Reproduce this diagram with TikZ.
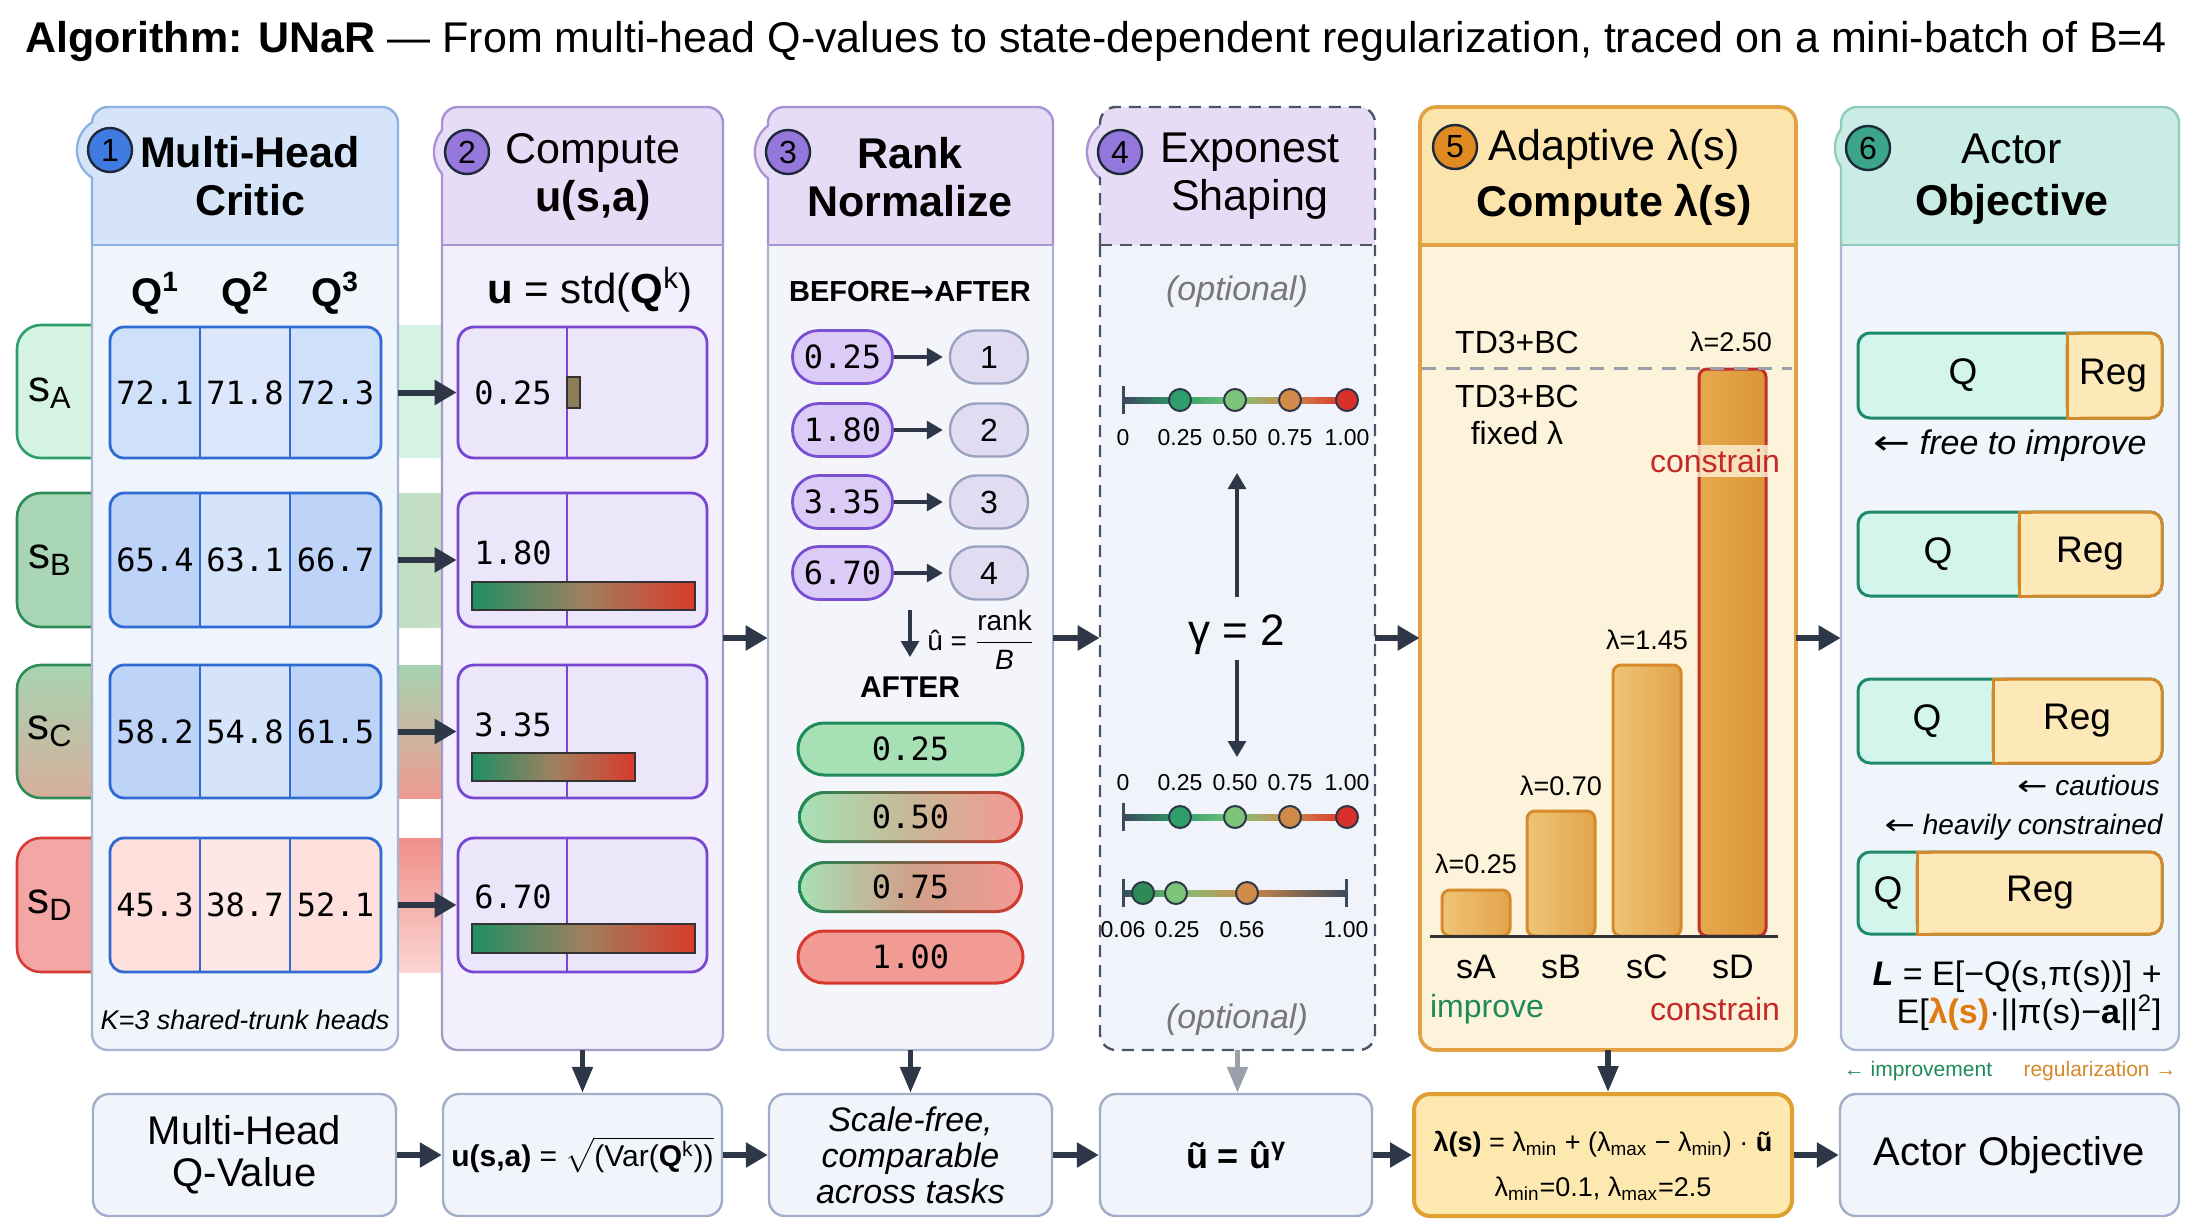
\documentclass[tikz,border=0pt]{standalone}
\usepackage{fontspec}
\usepackage{amsmath}
\usepackage{graphicx}
\setmainfont{Liberation Sans}
\setmonofont{DejaVu Sans Mono}
\newfontfamily\dvs{DejaVu Sans}
\newcommand\larr{{\dvs\upshape\scalebox{1.3}[1]{←}}}
\newcommand\rarr{{\dvs\upshape\scalebox{1.3}[1]{→}}}
\usetikzlibrary{arrows.meta,fit,calc}

\definecolor{arrc}{HTML}{2D3748}
\definecolor{badgeb}{HTML}{1E293B}
\definecolor{p1hf}{HTML}{D6E4F9}\definecolor{p1hb}{HTML}{8FB0E3}\definecolor{p1bf}{HTML}{F0F4FB}\definecolor{p1bb}{HTML}{A7B6D2}\definecolor{p1bd}{HTML}{3F7BE0}\definecolor{p1cb}{HTML}{8FB0E3}
\definecolor{p2hf}{HTML}{E6DCF6}\definecolor{p2hb}{HTML}{A793D4}\definecolor{p2bf}{HTML}{F3EFFC}\definecolor{p2bb}{HTML}{A59BC8}\definecolor{p2bd}{HTML}{9678DC}\definecolor{p2cb}{HTML}{A793D4}
\definecolor{p3hf}{HTML}{E6DCF6}\definecolor{p3hb}{HTML}{A793D4}\definecolor{p3bf}{HTML}{F3F5FA}\definecolor{p3bb}{HTML}{A7B6D2}\definecolor{p3bd}{HTML}{9678DC}\definecolor{p3cb}{HTML}{A793D4}
\definecolor{p4hf}{HTML}{E6DCF6}\definecolor{p4hb}{HTML}{4A5568}\definecolor{p4bf}{HTML}{F1F3FA}\definecolor{p4bb}{HTML}{4A5568}\definecolor{p4bd}{HTML}{9678DC}\definecolor{p4cb}{HTML}{A793D4}
\definecolor{p5hf}{HTML}{FCE5AD}\definecolor{p5hb}{HTML}{E2A244}\definecolor{p5bf}{HTML}{FDF3DA}\definecolor{p5bb}{HTML}{E2A244}\definecolor{p5bd}{HTML}{E08A22}\definecolor{p5cb}{HTML}{E2A244}
\definecolor{p6hf}{HTML}{C9ECE4}\definecolor{p6hb}{HTML}{90CBBD}\definecolor{p6bf}{HTML}{F0F4FB}\definecolor{p6bb}{HTML}{A7B6D2}\definecolor{p6bd}{HTML}{3AA58A}\definecolor{p6cb}{HTML}{90CBBD}
\definecolor{stAf}{HTML}{D5F3E3}\definecolor{stAb}{HTML}{2E9E6A}
\definecolor{stBf}{HTML}{A8D5B3}\definecolor{stBb}{HTML}{2E8B57}\definecolor{stBr}{HTML}{C5DFC5}
\definecolor{stCt}{HTML}{A6D4B0}\definecolor{stCb}{HTML}{D8AE9C}\definecolor{stCr}{HTML}{EE9A90}
\definecolor{stDf}{HTML}{F3A6A3}\definecolor{stDb}{HTML}{D63C35}\definecolor{stDt}{HTML}{F08E88}\definecolor{stDl}{HTML}{FBD5D2}
\definecolor{tblue}{HTML}{2F6BD3}
\definecolor{tA}{HTML}{CFE0FB}\definecolor{tAm}{HTML}{DCE7FC}
\definecolor{tB}{HTML}{BDD3F8}\definecolor{tBm}{HTML}{D5E3FB}
\definecolor{tD}{HTML}{FDE0DC}\definecolor{tDm}{HTML}{FDE8E5}
\definecolor{c2f}{HTML}{ECE6FB}\definecolor{c2b}{HTML}{7846D0}
\definecolor{barg}{HTML}{1F8F63}\definecolor{barm}{HTML}{A08060}\definecolor{barr}{HTML}{D93A2A}
\definecolor{barsm}{HTML}{8B7D5A}\definecolor{bard}{HTML}{333333}
\definecolor{bpf}{HTML}{DCCBF7}\definecolor{bpb}{HTML}{7A4FD4}
\definecolor{rpf}{HTML}{E1DCF2}\definecolor{rpb}{HTML}{9AA2C0}
\definecolor{agf}{HTML}{A8E0B5}\definecolor{agb}{HTML}{1F8A5A}
\definecolor{arf}{HTML}{F29A94}\definecolor{arb}{HTML}{D63A2F}
\definecolor{amid}{HTML}{C8B896}\definecolor{amidb}{HTML}{CFA08A}
\definecolor{tickc}{HTML}{3B4A5C}
\definecolor{d1}{HTML}{2E9E6A}\definecolor{d2}{HTML}{7CC47A}\definecolor{d3}{HTML}{D08A4A}\definecolor{d4}{HTML}{D9302A}
\definecolor{d0}{HTML}{2E8B57}
\definecolor{optc}{HTML}{777777}
\definecolor{barL}{HTML}{EEC476}\definecolor{barR}{HTML}{E3A44C}\definecolor{barb}{HTML}{D78A2A}
\definecolor{barDL}{HTML}{E6A94E}\definecolor{barDR}{HTML}{DC9438}\definecolor{barDb}{HTML}{C0302A}
\definecolor{gr}{HTML}{1E8A5A}\definecolor{rd}{HTML}{C62828}\definecolor{dashc}{HTML}{9AA0AA}
\definecolor{qf}{HTML}{D3F5EC}\definecolor{qb}{HTML}{1F8A6A}
\definecolor{regf}{HTML}{FDE9B8}\definecolor{regb}{HTML}{D4892A}
\definecolor{lamc}{HTML}{E07B10}
\definecolor{bbf}{HTML}{F1F4FB}\definecolor{bbb}{HTML}{A0AEC8}
\definecolor{b5f}{HTML}{FDE9B0}\definecolor{b5b}{HTML}{E0A030}
\definecolor{grayarr}{HTML}{9AA0AA}

\tikzset{
 arr/.style={draw=arrc, line width=3pt, -{Triangle[length=11pt,width=12pt]}},
 varr/.style={draw=arrc, line width=2.6pt, -{Triangle[length=13pt,width=10pt]}},
 sarr/.style={draw=arrc, line width=1.6pt, -{Triangle[length=8pt,width=9pt]}},
 badge/.style={circle, draw=badgeb, line width=1.2pt, minimum size=22pt, inner sep=0pt, font=\fontsize{16}{16}\selectfont},
 hdr/.style={font=\fontsize{21.5}{24}\selectfont, align=center, inner sep=0pt},
 hdrb/.style={font=\bfseries\fontsize{21.5}{24}\selectfont, align=center, inner sep=0pt},
 mono/.style={font=\ttfamily\fontsize{16}{16}\selectfont, inner sep=0pt},
 qh/.style={font=\bfseries\fontsize{20}{20}\selectfont, inner sep=0pt},
 stlab/.style={font=\fontsize{22}{22}\selectfont, inner sep=0pt},
 bpill/.style={rounded corners=13pt, minimum width=50pt, minimum height=26.5pt, fill=bpf, draw=bpb, line width=1.4pt, font=\ttfamily\fontsize{16}{16}\selectfont, inner sep=0pt},
 rpill/.style={rounded corners=13pt, minimum width=39pt, minimum height=26.5pt, fill=rpf, draw=rpb, line width=1.2pt, font=\fontsize{16}{16}\selectfont, inner sep=0pt},
 small/.style={font=\fontsize{11.5}{12}\selectfont, inner sep=0pt},
 dot/.style={circle, draw=arrc, line width=1pt, minimum size=11pt, inner sep=0pt},
 lam/.style={font=\fontsize{13.5}{14}\selectfont, inner sep=0pt},
 bar5/.style={inner sep=0pt, rounded corners=4pt, left color=barL, right color=barR, draw=barb, line width=1.5pt},
 lbl5/.style={font=\fontsize{16}{18.5}\selectfont, inner sep=0pt, align=center},
 qpart/.style={inner sep=0pt, rounded corners=6pt, fill=qf, draw=qb, line width=1.5pt},
 regpart/.style={inner sep=0pt, rounded corners=6pt, fill=regf, draw=regb, line width=1.5pt},
 q6/.style={font=\fontsize{18.5}{18.5}\selectfont, inner sep=0pt},
 note6/.style={font=\itshape\fontsize{14}{14}\selectfont, inner sep=0pt},
 bbox/.style={inner sep=0pt, rounded corners=8pt, fill=bbf, draw=bbb, line width=1.2pt},
 btxt/.style={align=center, inner sep=0pt}
}

% panel: #1 name, #2 x1, #3 x2, #4 colour prefix, #5 badge x, #6 badge y, #7 number, #8 extra border style
\newcommand\mypanel[8]{%
 \filldraw[fill=#4hf, draw=#4cb, line width=1.2pt] (#5,#6) circle[radius=16.5pt];
 \node[fit={(#2,107)(#3,1050)}, inner sep=0pt, fill=#4bf, rounded corners=8pt] (#1) {};
 \begin{scope}
  \clip[rounded corners=8pt] (#2,107) rectangle (#3,1050);
  \fill[#4hf] (#2,107) rectangle (#3,245);
 \end{scope}
 \draw[#4hb, line width=1.2pt, rounded corners=8pt, #8] (#2,245) -- (#2,107) -- (#3,107) -- (#3,245);
 \draw[#4hb, line width=1.2pt, #8] (#2,245) -- (#3,245);
 \draw[#4bb, line width=1.2pt, rounded corners=8pt, #8] (#2,245) -- (#2,1050) -- (#3,1050) -- (#3,245);
 \fill[#4hf] (#5,#6) circle[radius=15.8pt];
 \node[badge, fill=#4bd] (#1n) at (#5,#6) {#7};
}

% table row in column 1
\newcommand\trow[8]{%
 \node[fit={(110,#2)(381,#3)}, inner sep=0pt, fill=#4, rounded corners=7pt] (#1) {};
 \fill[#5] (200,#2) rectangle (290,#3);
 \draw[tblue, line width=1.4pt, rounded corners=7pt] (110,#2) rectangle (381,#3);
 \draw[tblue, line width=1.4pt] (200,#2) -- (200,#3) (290,#2) -- (290,#3);
 \node[mono] (#1a) at (155,{(#2+#3)/2}) {#6};
 \node[mono] (#1b) at (245,{(#2+#3)/2}) {#7};
 \node[mono] (#1c) at (335.5,{(#2+#3)/2}) {#8};
}

% column 2 box
\newcommand\ubox[5]{%
 \node[fit={(458,#2)(707,#3)}, inner sep=0pt, fill=c2f, draw=c2b, line width=1.4pt, rounded corners=8pt] (#1) {};
 \draw[c2b, line width=1.4pt] (567,#2) -- (567,#3);
 \node[mono] (#1v) at (513,#4) {#5};
}

\newcommand\nlseg[5]{\shade[left color=#4, right color=#5] (#1,{#3-3}) rectangle (#2,{#3+3});}

% Q / Reg bar
\newcommand\qreg[6]{%
 \node[fit={(1858,#2)(2162,#3)}, qpart] (#1) {};
 \node[fit={(#4,#2)(2162,#3)}, regpart] (#1r) {};
 \fill[regf] (#4,#2) rectangle ({#4+14},#3);
 \draw[regb, line width=1.5pt] ({#4+14},#2) -- (#4,#2) -- (#4,#3) -- ({#4+14},#3);
 \node[q6] (#1q) at (#5,{(#2+#3)/2}) {Q};
 \node[q6] (#1g) at (#6,{(#2+#3)/2}) {Reg};
}

\begin{document}
\begin{tikzpicture}[x=0.5pt,y=-0.5pt]
\fill[white] (0,0) rectangle (2200,1228);
\useasboundingbox (0,0) rectangle (2200,1228);

\node[anchor=west, inner sep=0pt, font=\fontsize{21.5}{26}\selectfont] (title) at (25,41)
 {\textbf{Algorithm: UNaR} — From multi-head Q-values to state-dependent regularization, traced on a mini-batch of B=4};

% state bands
\fill[stAf] (100,325) rectangle (442,458);
\node[fit={(17,325)(150,458)}, inner sep=0pt, fill=stAf, draw=stAb, line width=1.3pt, rounded corners=12pt] (sA) {};
\shade[left color=stBf, right color=stBr] (100,493) rectangle (442,627);
\node[fit={(17,493)(150,627)}, inner sep=0pt, fill=stBf, draw=stBb, line width=1.3pt, rounded corners=12pt] (sB) {};
\shade[top color=stCt, bottom color=stCr] (100,665) rectangle (442,798);
\node[fit={(17,665)(150,798)}, inner sep=0pt, top color=stCt, bottom color=stCb, draw=stBb, line width=1.3pt, rounded corners=12pt] (sC) {};
\shade[top color=stDt, bottom color=stDl] (100,838) rectangle (442,972);
\node[fit={(17,838)(150,972)}, inner sep=0pt, fill=stDf, draw=stDb, line width=1.3pt, rounded corners=12pt] (sD) {};

% panels
\mypanel{P1}{92}{398}{p1}{110}{150}{1}{}
\mypanel{P2}{442}{723}{p2}{467}{152}{2}{}
\mypanel{P3}{768}{1053}{p3}{788}{152}{3}{}
\mypanel{P4}{1100}{1375}{p4}{1120}{152}{4}{dashed, dash pattern=on 6pt off 4pt}
\mypanel{P5}{1420}{1796}{p5}{1455}{147}{5}{line width=1.8pt}
\mypanel{P6}{1841}{2179}{p6}{1868}{148}{6}{}

\node[stlab] (lsA) at (50,393) {s\textsubscript{A}};
\node[stlab] (lsB) at (50,560) {s\textsubscript{B}};
\node[stlab] (lsC) at (50,731) {s\textsubscript{C}};
\node[stlab] (lsD) at (50,905) {s\textsubscript{D}};

\node[hdrb] (P1t) at (250,176) {Multi-Head\\Critic};
\node[hdr] (P2t) at (593,177) {Compute\\\textbf{u(s,a)}};
\node[hdrb] (P3t) at (910,177) {Rank\\Normalize};
\node[hdr] (P4t) at (1250,176) {Exponest\\Shaping};
\node[hdr, font=\fontsize{21.5}{28}\selectfont] (P5t) at (1614,177) {Adaptive λ(s)\\\textbf{Compute λ(s)}};
\node[hdr, font=\fontsize{21.5}{26}\selectfont] (P6t) at (2012,179) {Actor\\\textbf{Objective}};

% column 1
\node[qh] (qh1) at (155,293) {Q\textsuperscript{1}};
\node[qh] (qh2) at (245,293) {Q\textsuperscript{2}};
\node[qh] (qh3) at (335,293) {Q\textsuperscript{3}};
\trow{ra}{327}{458}{tA}{tAm}{72.1}{71.8}{72.3}
\trow{rb}{493}{627}{tB}{tBm}{65.4}{63.1}{66.7}
\trow{rc}{665}{798}{tB}{tBm}{58.2}{54.8}{61.5}
\trow{rd}{838}{972}{tD}{tDm}{45.3}{38.7}{52.1}
\node[font=\itshape\fontsize{13.5}{14}\selectfont, inner sep=0pt] (kheads) at (245,1020) {K=3 shared-trunk heads};

% column 2
\node[font=\fontsize{21}{21}\selectfont, inner sep=0pt] (ustd) at (590,290) {\textbf{u} = std(\textbf{Q}\textsuperscript{k})};
\ubox{ua}{327}{458}{393}{0.25}
\ubox{ub}{493}{627}{553}{1.80}
\ubox{uc}{665}{798}{725}{3.35}
\ubox{ud}{838}{972}{897}{6.70}
\filldraw[fill=barsm, draw=bard, line width=0.8pt] (567,377) rectangle (580,408);
\shadedraw[left color=barg, right color=barr, middle color=barm, draw=bard, line width=1pt] (472,582) rectangle (695,610);
\shadedraw[left color=barg, right color=barr, middle color=barm, draw=bard, line width=1pt] (472,753) rectangle (635,781);
\shadedraw[left color=barg, right color=barr, middle color=barm, draw=bard, line width=1pt] (472,924) rectangle (695,953);

\draw[arr] (P1.east |- ra) -- (ua.west);
\draw[arr] (P1.east |- rb) -- (ub.west);
\draw[arr] (P1.east |- rc) -- (uc.west);
\draw[arr] (P1.east |- rd) -- (ud.west);

% column 3
\node[font=\bfseries\fontsize{14.5}{15}\selectfont, inner sep=0pt] (ba) at (910,292) {BEFORE{\dvs\bfseries →}AFTER};
\node[bpill] (b1) at (842.5,357) {0.25};
\node[bpill] (b2) at (842.5,430) {1.80};
\node[bpill] (b3) at (842.5,502) {3.35};
\node[bpill] (b4) at (842.5,573) {6.70};
\node[rpill] (r1) at (989,357) {1};
\node[rpill] (r2) at (989,430) {2};
\node[rpill] (r3) at (989,502) {3};
\node[rpill] (r4) at (989,573) {4};
\foreach \i in {1,2,3,4} {\draw[sarr, shorten >=3pt] (b\i.east) -- (r\i.west);}
\coordinate (dn1) at (910,610);
\coordinate (dn2) at (910,657);
\draw[sarr] (dn1) -- (dn2);
\node[font=\fontsize{14}{14}\selectfont, inner sep=0pt, anchor=west] (uhat) at (927,640) {û = $\dfrac{\text{rank}}{\text{\itshape B}}$};
\node[font=\bfseries\fontsize{15}{15}\selectfont, inner sep=0pt] (aft) at (910,687) {AFTER};
\node[fit={(798,723)(1023,775)}, inner sep=0pt, rounded corners=13pt, fill=agf, draw=agb, line width=1.5pt] (a1) {};
\shade[left color=agb, right color=arb, rounded corners=13pt] (798,791) rectangle (1023,843);
\node[fit={(801,794)(1020,840)}, inner sep=0pt, rounded corners=12pt, left color=agf, right color=arf, middle color=amid] (a2) {};
\shade[left color=agb, right color=arb, rounded corners=13pt] (798,861) rectangle (1023,913);
\node[fit={(801,864)(1020,910)}, inner sep=0pt, rounded corners=12pt, left color=agf, right color=arf, middle color=amidb] (a3) {};
\node[fit={(798,931)(1023,983)}, inner sep=0pt, rounded corners=13pt, fill=arf, draw=arb, line width=1.5pt] (a4) {};
\node[mono] (a1t) at (a1) {0.25};
\node[mono] (a2t) at (a2) {0.50};
\node[mono] (a3t) at (a3) {0.75};
\node[mono] (a4t) at (a4) {1.00};

% column 4
\node[font=\itshape\fontsize{17}{17}\selectfont, text=optc, inner sep=0pt] (opt1) at (1237,292) {(optional)};
\node[font=\itshape\fontsize{17}{17}\selectfont, text=optc, inner sep=0pt] (opt2) at (1237,1020) {(optional)};
\draw[tickc, line width=1.5pt] (1123,386) -- (1123,414);
\nlseg{1123}{1180}{400}{tickc}{d1}
\nlseg{1180}{1235}{400}{d1}{d2}
\nlseg{1235}{1290}{400}{d2}{d3}
\nlseg{1290}{1347}{400}{d3}{d4}
\node[dot, fill=d1] (l1a) at (1180,400) {};
\node[dot, fill=d2] (l1b) at (1235,400) {};
\node[dot, fill=d3] (l1c) at (1290,400) {};
\node[dot, fill=d4] (l1d) at (1347,400) {};
\node[small] (t10) at (1123,438) {0};
\node[small] (t11) at (1180,438) {0.25};
\node[small] (t12) at (1235,438) {0.50};
\node[small] (t13) at (1290,438) {0.75};
\node[small] (t14) at (1347,438) {1.00};
\node[font=\fontsize{22}{22}\selectfont, inner sep=0pt] (gam) at (1237,635) {γ = 2};
\coordinate (up1) at (1237,597);
\coordinate (up2) at (1237,473);
\draw[sarr] (up1) -- (up2);
\coordinate (dw1) at (1237,660);
\coordinate (dw2) at (1237,757);
\draw[sarr] (dw1) -- (dw2);
\node[small] (t20) at (1123,783) {0};
\node[small] (t21) at (1180,783) {0.25};
\node[small] (t22) at (1235,783) {0.50};
\node[small] (t23) at (1290,783) {0.75};
\node[small] (t24) at (1347,783) {1.00};
\draw[tickc, line width=1.5pt] (1123,803) -- (1123,831);
\nlseg{1123}{1180}{817}{tickc}{d1}
\nlseg{1180}{1235}{817}{d1}{d2}
\nlseg{1235}{1290}{817}{d2}{d3}
\nlseg{1290}{1347}{817}{d3}{d4}
\node[dot, fill=d1] (l2a) at (1180,817) {};
\node[dot, fill=d2] (l2b) at (1235,817) {};
\node[dot, fill=d3] (l2c) at (1290,817) {};
\node[dot, fill=d4] (l2d) at (1347,817) {};
\draw[tickc, line width=1.5pt] (1123,879) -- (1123,907);
\draw[tickc, line width=1.5pt] (1346,879) -- (1346,907);
\nlseg{1123}{1143}{893}{tickc}{d0}
\nlseg{1143}{1176}{893}{d0}{d2}
\nlseg{1176}{1247}{893}{d2}{d3}
\nlseg{1247}{1346}{893}{d3}{tickc}
\node[dot, fill=d0] (l3a) at (1143,893) {};
\node[dot, fill=d2] (l3b) at (1176,893) {};
\node[dot, fill=d3] (l3c) at (1247,893) {};
\node[small] (t30) at (1123,930) {0.06};
\node[small] (t31) at (1177,930) {0.25};
\node[small] (t32) at (1242,930) {0.56};
\node[small] (t33) at (1346,930) {1.00};

% column 5
\node[fit={(1442,890)(1510,936)}, bar5] (barA) {};
\node[fit={(1527,811)(1595,936)}, bar5] (barB) {};
\node[fit={(1613,665)(1681,936)}, bar5] (barC) {};
\node[fit={(1699,369)(1766,936)}, bar5, left color=barDL, right color=barDR, draw=barDb] (barD) {};
\draw[bard, line width=1.5pt] (1430,936) -- (1778,936);
\draw[dashc, line width=1.5pt, dash pattern=on 7pt off 5pt] (1422,368) -- (1792,368);
\node[lam] (lA) at (1476,864) {λ=0.25};
\node[lam] (lB) at (1561,786) {λ=0.70};
\node[lam] (lC) at (1647,640) {λ=1.45};
\node[lam] (lD) at (1731,342) {λ=2.50};
\node[lbl5] (td1) at (1517,342) {TD3+BC};
\node[lbl5] (td2) at (1517,415) {TD3+BC\\fixed λ};
\node[lbl5, text=rd, fill=p5bf, fill opacity=0.8, text opacity=1, inner sep=2pt] (con1) at (1715,461) {constrain};
\node[lbl5, font=\fontsize{17}{17}\selectfont] (xA) at (1476,967) {sA};
\node[lbl5, font=\fontsize{17}{17}\selectfont] (xB) at (1561,967) {sB};
\node[lbl5, font=\fontsize{17}{17}\selectfont] (xC) at (1647,967) {sC};
\node[lbl5, font=\fontsize{17}{17}\selectfont] (xD) at (1733,967) {sD};
\node[lbl5, text=gr] (imp) at (1487,1009) {improve};
\node[lbl5, text=rd] (con2) at (1715,1009) {constrain};

% column 6
\qreg{g1}{333}{418}{2067}{1963}{2113}
\qreg{g2}{512}{596}{2019}{1938}{2090}
\qreg{g3}{679}{763}{1993}{1927}{2077}
\qreg{g4}{852}{934}{1917}{1888}{2040}
\node[font=\itshape\fontsize{17}{17}\selectfont, inner sep=0pt] (free) at (2010,446) {\larr\ free to improve};
\node[note6, anchor=east] (caut) at (2160,785) {\larr\ cautious};
\node[note6, anchor=east] (heav) at (2163,827) {\larr\ heavily constrained};
\node[font=\fontsize{17}{19}\selectfont, inner sep=0pt, align=right, anchor=east] (form) at (2162,996)
 {\textbf{\textit{L}} = E[−Q(s,π(s))] +\\E[\textcolor{lamc}{\textbf{λ(s)}}·||π(s)−\textbf{a}||\textsuperscript{2}]};
\node[font=\fontsize{10.5}{11}\selectfont, text=gr, inner sep=0pt] (impl) at (1918,1071) {← improvement};
\node[font=\fontsize{10.5}{11}\selectfont, text=regb, inner sep=0pt] (regl) at (2100,1071) {regularization →};

% column arrows
\coordinate (mid) at (0,638);
\draw[arr] (P2.east |- mid) -- (P3.west |- mid);
\draw[arr] (P3.east |- mid) -- (P4.west |- mid);
\draw[arr] (P4.east |- mid) -- (P5.west |- mid);
\draw[arr] (P5.east |- mid) -- (P6.west |- mid);

% bottom boxes
\node[fit={(93,1094)(396,1216)}, bbox] (B1) {};
\node[fit={(443,1094)(722,1216)}, bbox] (B2) {};
\node[fit={(769,1094)(1052,1216)}, bbox] (B3) {};
\node[fit={(1100,1094)(1372,1216)}, bbox] (B4) {};
\node[fit={(1414,1094)(1792,1216)}, bbox, fill=b5f, draw=b5b, line width=2pt] (B5) {};
\node[fit={(1840,1094)(2179,1216)}, bbox] (B6) {};
\node[btxt, font=\fontsize{20}{21}\selectfont] (B1t) at (B1) {Multi-Head\\Q-Value};
\node[btxt, font=\fontsize{15}{16}\selectfont] (B2t) at (B2) {\textbf{u(s,a)} = $\sqrt{\text{(Var(\textbf{Q}\textsuperscript{k}))}}$};
\node[btxt, font=\itshape\fontsize{17}{18}\selectfont] (B3t) at (B3) {Scale-free,\\comparable\\across tasks};
\node[btxt, font=\bfseries\fontsize{18}{18}\selectfont] (B4t) at (B4) {ũ = û\textsuperscript{γ}};
\node[btxt, font=\fontsize{13.5}{22.5}\selectfont] (B5t) at (1603,1166) {\textbf{λ(s)} = λ\textsubscript{min} + (λ\textsubscript{max} − λ\textsubscript{min}) · \textbf{ũ}\\λ\textsubscript{min}=0.1, λ\textsubscript{max}=2.5};
\node[btxt, font=\fontsize{20}{21}\selectfont] (B6t) at (B6) {Actor Objective};

\draw[varr] (P2.south) -- (B2.north);
\draw[varr] (P3.south) -- (P3.south |- B3.north);
\draw[varr, draw=grayarr] (P4.south) -- (P4.south |- B4.north);
\draw[varr] (P5.south) -- (P5.south |- B5.north);

\draw[arr] (B1.east) -- (B2.west);
\draw[arr] (B2.east) -- (B3.west);
\draw[arr] (B3.east) -- (B4.west);
\draw[arr] (B4.east) -- (B5.west);
\draw[arr] (B5.east) -- (B6.west);
\end{tikzpicture}
\end{document}
